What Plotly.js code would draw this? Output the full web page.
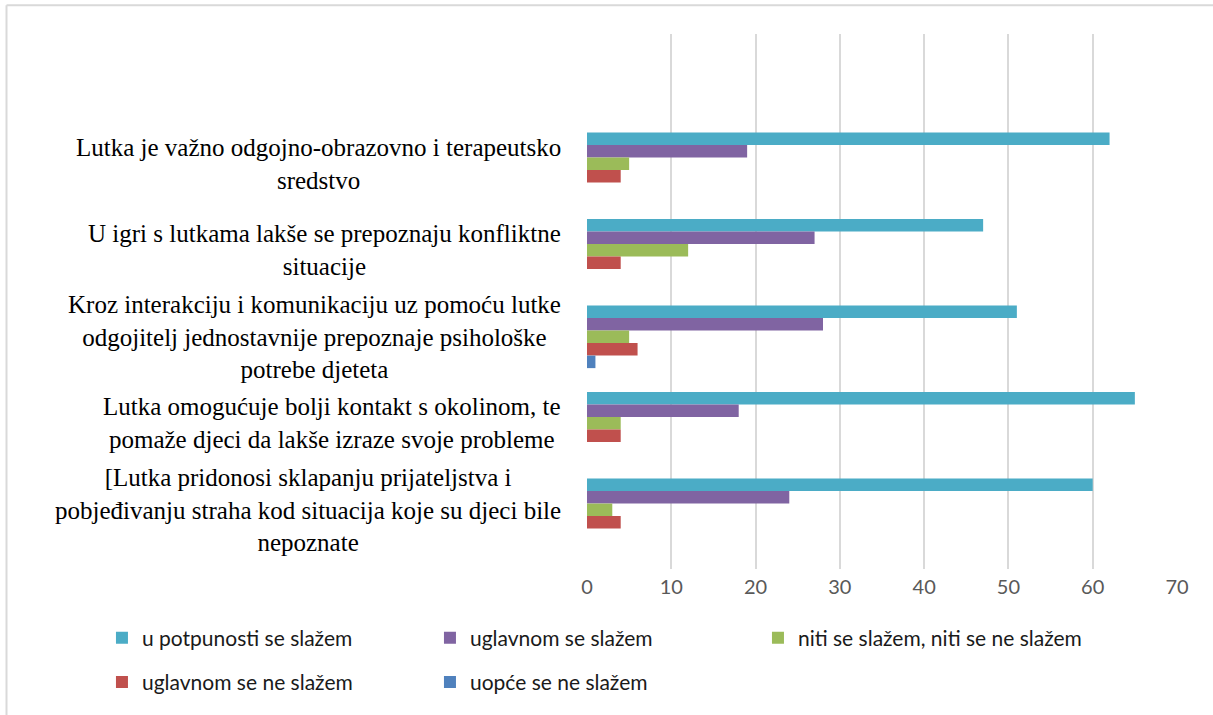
<!DOCTYPE html>
<html>
<head>
<meta charset="utf-8">
<script src="https://cdn.plot.ly/plotly-3.0.1.min.js"></script>
<style>html,body{margin:0;padding:0;background:#fff;}#chart{width:1213px;height:715px;}</style>
</head>
<body>
<div id="chart"></div>
<script>
const categories = [
  "Lutka je važno odgojno-obrazovno i terapeutsko<br>sredstvo",
  "U igri s lutkama lakše se prepoznaju konfliktne<br>situacije",
  "Kroz interakciju i komunikaciju uz pomoću lutke<br>odgojitelj jednostavnije prepoznaje psihološke<br>potrebe djeteta",
  "Lutka omogućuje bolji kontakt s okolinom, te<br>pomaže djeci da lakše izraze svoje probleme",
  "[Lutka pridonosi sklapanju prijateljstva i<br>pobjeđivanju straha kod situacija koje su djeci bile<br>nepoznate"
];
const seriesNames = [
  "u potpunosti se slažem",
  "uglavnom se slažem",
  "niti se slažem, niti se ne slažem",
  "uglavnom se ne slažem",
  "uopće se ne slažem"
];
const uPotpunosti = [62, 47, 51, 65, 60];
const uglavnomSe = [19, 27, 28, 18, 24];
const niti = [5, 12, 5, 4, 3];
const uglavnomNe = [4, 4, 6, 4, 4];
const uopce = [0, 0, 1, 0, 0];
const xTicks = [0, 10, 20, 30, 40, 50, 60, 70];

const colors = ["#4BACC6", "#8064A2", "#9BBB59", "#C0504D", "#4F81BD"];
const values = [uPotpunosti, uglavnomSe, niti, uglavnomNe, uopce];

const traces = values.map((v, i) => ({
  type: "bar",
  orientation: "h",
  name: seriesNames[i],
  x: v,
  y: categories,
  marker: {color: colors[i], line: {width: 0}},
  legend: i < 3 ? "legend" : "legend2",
  hoverinfo: "x+name"
}));

const annotations = categories.map(c => ({
  xref: "paper", yref: "y",
  x: -0.0407, y: c,
  xanchor: "right", yanchor: "middle",
  align: "center",
  text: c,
  showarrow: false,
  font: {family: "Liberation Serif", size: 25, color: "#000"}
}));

const legendCommon = {
  orientation: "h",
  xref: "paper", yref: "paper",
  xanchor: "left", yanchor: "middle",
  entrywidth: 283, entrywidthmode: "pixels",
  font: {family: "Lato", size: 21, color: "#1a1a1a"},
  itemwidth: 30,
  bgcolor: "rgba(0,0,0,0)"
};

const layout = {
  width: 1213, height: 715,
  margin: {l: 587, r: 36, t: 34, b: 143, pad: 0},
  paper_bgcolor: "#fff", plot_bgcolor: "#fff",
  barmode: "group",
  bargap: 0.276,
  bargroupgap: 0,
  xaxis: {
    range: [0, 70],
    tickvals: xTicks,
    ticktext: xTicks.map(String),
    showgrid: true, gridcolor: "#d9d9d9", gridwidth: 1.5,
    zeroline: false, showline: false,
    ticks: "",
    ticklabelstandoff: 4,
    tickfont: {family: "Lato", size: 20, color: "#595959"},
    fixedrange: true
  },
  yaxis: {
    type: "category",
    categoryorder: "array", categoryarray: categories,
    range: [4.684, -1.5],
    showticklabels: false, showgrid: false, zeroline: false, showline: false,
    ticks: "",
    fixedrange: true
  },
  legend: Object.assign({}, legendCommon, {x: -0.8221, y: -0.129}),
  legend2: Object.assign({}, legendCommon, {x: -0.8221, y: -0.2119}),
  annotations: annotations,
  shapes: [
    {type: "line", xref: "paper", yref: "paper", x0: -0.9839, x1: 1.07, y0: 1.0539, y1: 1.0539,
     line: {color: "#d9d9d9", width: 2}},
    {type: "line", xref: "paper", yref: "paper", x0: -0.9839, x1: -0.9839, y0: 1.0539, y1: -0.28,
     line: {color: "#d9d9d9", width: 2}}
  ]
};

Plotly.newPlot("chart", traces, layout, {displayModeBar: false, staticPlot: false});
</script>
</body>
</html>
